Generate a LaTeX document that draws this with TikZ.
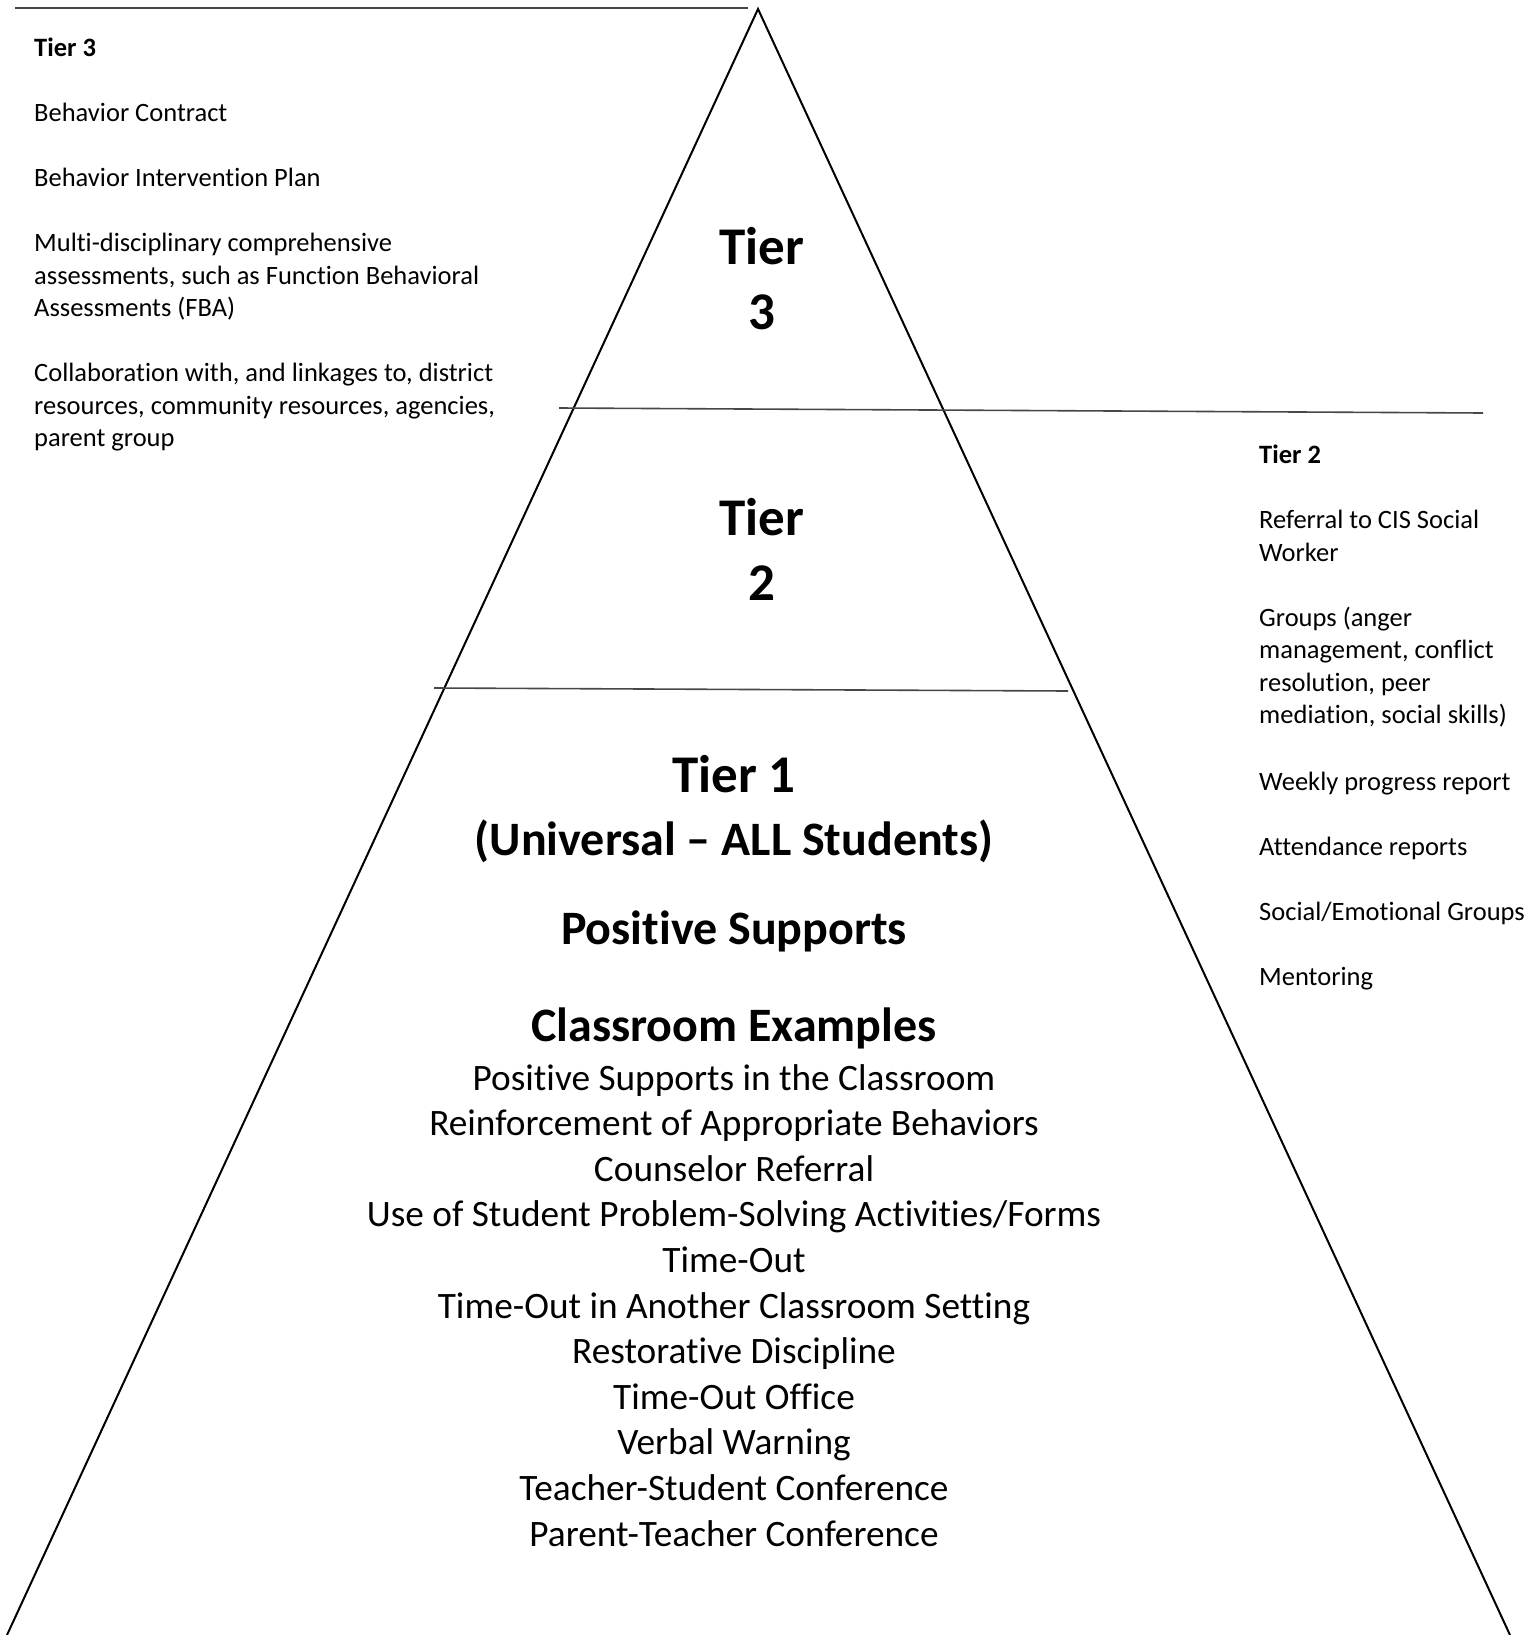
\documentclass[tikz,border=0pt]{standalone}
\usepackage{fontspec}
\setmainfont{Carlito}[Ligatures={TeX,NoCommon}]
\usetikzlibrary{positioning}
\tikzset{side/.style={line width=2pt, black}}
\tikzset{rule/.style={line width=1.6pt, black!72}}
\tikzset{listtext/.style={anchor=base west, align=left, inner sep=0pt, font=\fontsize{26.5}{32.5}\selectfont}}
\tikzset{listhead/.style={listtext, font=\fontsize{26.5}{32.5}\selectfont\bfseries}}
\tikzset{tierlabel/.style={anchor=base, align=center, inner sep=0pt, font=\fontsize{53}{65}\selectfont\bfseries}}
\tikzset{examplehead/.style={anchor=base, inner sep=0pt, font=\fontsize{48}{58}\selectfont\bfseries}}
\tikzset{exampleitem/.style={anchor=base, inner sep=0pt, font=\fontsize{37.3}{45.6}\selectfont}}

\begin{document}
\begin{tikzpicture}[x=1pt, y=-1pt]
  \useasboundingbox (0,0) rectangle (1530,1635);
  % pyramid
  \coordinate (apex) at (758,9);
  \coordinate (base west) at (7,1635);
  \coordinate (base east) at (1510,1635);
  \draw[side] (base west) -- (apex) -- (base east);
  % dividing rules
  \coordinate (top west) at (15,8);
  \coordinate (top east) at (748,8);
  \coordinate (mid west) at (559,408);
  \coordinate (mid east) at (1483,413);
  \coordinate (low west) at (434,688);
  \coordinate (low east) at (1068,691);
  \draw[rule] (top west) -- (top east);
  \draw[rule] (mid west) -- (mid east);
  \draw[rule] (low west) -- (low east);

  % tier 3 list (multi-line nodes sit on their last baseline)
  \node[listhead] (t3head) at (34,56.5) {Tier 3};
  \node[listtext] (t3contract) at (34,121.5) {Behavior Contract};
  \node[listtext] (t3plan) at (34,186.5) {Behavior Intervention Plan};
  \node[listtext] (t3assess) at (34,316.5) {Multi-disciplinary comprehensive\\assessments, such as Function Behavioral\\Assessments (FBA)};
  \node[listtext] (t3collab) at (34,446.5) {Collaboration with, and linkages to, district\\resources, community resources, agencies,\\parent group};

  % tier 2 list
  \node[listhead] (t2head) at (1259,463.5) {Tier 2};
  \node[listtext] (t2referral) at (1259,561) {Referral to CIS Social\\Worker};
  \node[listtext] (t2groups) at (1259,723.5) {Groups (anger\\management, conflict\\resolution, peer\\mediation, social skills)};
  \node[listtext] (t2weekly) at (1259,790) {Weekly progress report};
  \node[listtext] (t2attend) at (1259,855) {Attendance reports};
  \node[listtext] (t2social) at (1259,920) {Social/Emotional Groups};
  \node[listtext] (t2mentor) at (1259,985) {Mentoring};

  % pyramid labels
  \node[tierlabel] (tier3) at (762,329) {Tier\\3};
  \node[tierlabel] (tier2) at (762,600) {Tier\\2};
  \node[tierlabel] (tier1) at (734,792) {Tier 1};
  \node[examplehead] (universal) at (734,855) {(Universal – ALL Students)};
  \node[examplehead] (supports) at (734,944) {Positive Supports};
  \node[examplehead] (examples) at (734,1041) {Classroom Examples};

  % classroom examples
  \node[exampleitem] (ex1) at (734,1090) {Positive Supports in the Classroom};
  \node[exampleitem] (ex2) at (734,1135.6) {Reinforcement of Appropriate Behaviors};
  \node[exampleitem] (ex3) at (734,1181.2) {Counselor Referral};
  \node[exampleitem] (ex4) at (734,1226.8) {Use of Student Problem-Solving Activities/Forms};
  \node[exampleitem] (ex5) at (734,1272.4) {Time-Out};
  \node[exampleitem] (ex6) at (734,1318) {Time-Out in Another Classroom Setting};
  \node[exampleitem] (ex7) at (734,1363.6) {Restorative Discipline};
  \node[exampleitem] (ex8) at (734,1409.2) {Time-Out Office};
  \node[exampleitem] (ex9) at (734,1454.8) {Verbal Warning};
  \node[exampleitem] (ex10) at (734,1500.4) {Teacher-Student Conference};
  \node[exampleitem] (ex11) at (734,1546) {Parent-Teacher Conference};
\end{tikzpicture}
\end{document}
